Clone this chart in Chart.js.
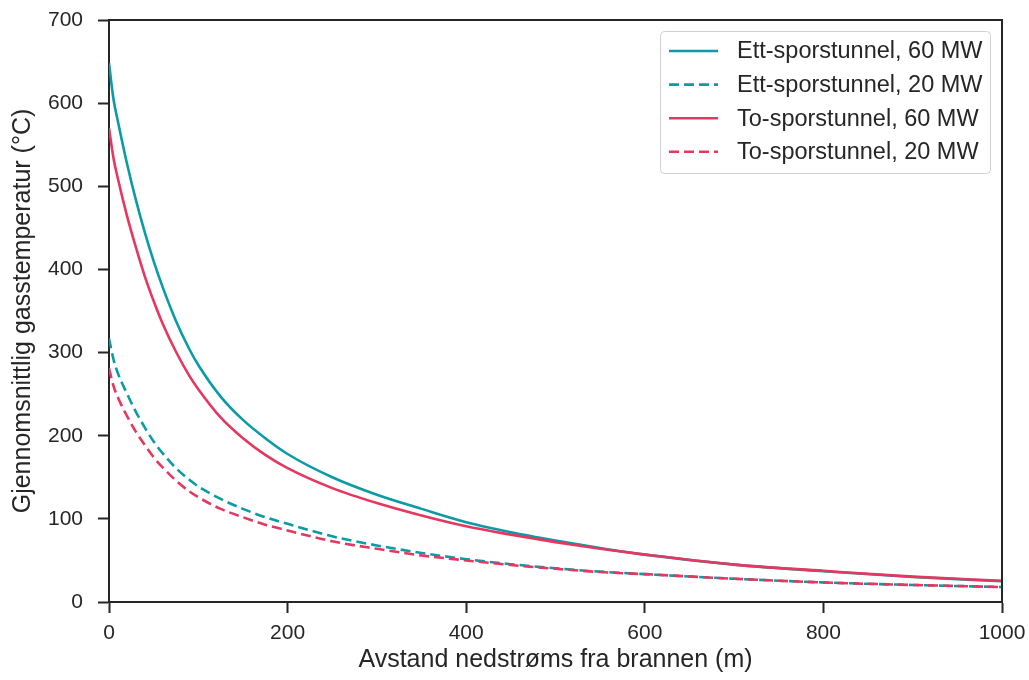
<!DOCTYPE html>
<html>
<head>
<meta charset="utf-8">
<script src="https://cdn.jsdelivr.net/npm/chart.js@4"></script>
<style>
  html, body { margin: 0; padding: 0; background: #fff; }
  canvas { display: block; }
</style>
</head>
<body>
<canvas id="myChart" width="1029" height="680"></canvas>
<script>
// avstand nedstrøms (m)
var distance = [0, 5, 10, 20, 30, 40, 50, 60, 75, 90, 100, 125, 150, 175, 200, 250, 300, 350, 400, 450, 500, 550, 600, 700, 800, 900, 1000];

// gasstemperatur (°C), lest av figuren
var ett60 = [648, 605, 578, 528, 484, 445, 410, 379, 338, 304, 285, 247, 219, 197, 178, 150, 129, 112, 96, 84, 74, 65, 57, 45, 37, 30, 25];
var ett20 = [317, 292, 275, 251, 229, 210, 193, 179, 161, 147, 139, 124, 112, 102, 94, 79, 68, 59, 51.5, 45.5, 40.5, 36.5, 33.5, 28, 23.5, 20.5, 18];
var to60  = [570, 534, 509, 465, 427, 392, 362, 335, 301, 272, 256, 222, 197, 177, 161, 137, 119, 104, 91, 81, 72, 64, 57, 45, 37.5, 30.5, 25.5];
var to20  = [281, 260, 246, 224, 205, 189, 174, 162, 146, 133, 126, 112, 102, 93, 86, 73, 64, 56, 50, 44.5, 40, 36, 33.5, 28, 23.5, 20.5, 18];

var labels = ['Ett-sporstunnel, 60 MW', 'Ett-sporstunnel, 20 MW', 'To-sporstunnel, 60 MW', 'To-sporstunnel, 20 MW'];
var xTicks = [0, 200, 400, 600, 800, 1000];
var yTicks = [0, 100, 200, 300, 400, 500, 600, 700];

var teal = '#0b9ba6';
var red = '#e5375f';
var ink = '#262626';
var fontFamily = 'Arial, "Liberation Sans", sans-serif';

function toPoints(arr) {
  return distance.map(function (d, i) { return { x: d, y: arr[i] }; });
}

function serie(label, arr, color, dashed, order) {
  return {
    label: label,
    data: toPoints(arr),
    borderColor: color,
    backgroundColor: color,
    borderWidth: 2.6,
    borderDash: dashed ? [10, 5] : [],
    pointRadius: 0,
    cubicInterpolationMode: 'monotone',
    fill: false,
    order: order
  };
}

// plottområdet styres av layout.padding alene
function noScalePadding(scale) {
  scale.paddingTop = 0;
  scale.paddingBottom = 0;
  scale.paddingLeft = 0;
  scale.paddingRight = 0;
}

// ramme rundt plottet + legende inne i plottet
var framePlugin = {
  id: 'frame',
  afterDraw: function (chart) {
    var a = chart.chartArea;
    var ctx = chart.ctx;
    ctx.save();
    ctx.strokeStyle = ink;
    ctx.lineWidth = 2;
    ctx.beginPath();
    ctx.moveTo(a.left, a.top);
    ctx.lineTo(a.right, a.top);
    ctx.lineTo(a.right, a.bottom);
    ctx.stroke();

    // legende
    var bx = 660.5, by = 31.5, bw = 330, bh = 142;
    ctx.fillStyle = 'rgba(255,255,255,0.85)';
    ctx.strokeStyle = '#d0d0d0';
    ctx.lineWidth = 1;
    ctx.beginPath();
    ctx.roundRect(bx, by, bw, bh, 4);
    ctx.fill();
    ctx.stroke();

    ctx.font = '23.5px ' + fontFamily;
    ctx.textBaseline = 'middle';
    ctx.textAlign = 'left';
    chart.data.datasets.forEach(function (ds, i) {
      var y = 51 + i * 33.6;
      ctx.strokeStyle = ds.borderColor;
      ctx.lineWidth = ds.borderWidth;
      ctx.setLineDash(ds.borderDash);
      ctx.beginPath();
      ctx.moveTo(669, y);
      ctx.lineTo(718, y);
      ctx.stroke();
      ctx.setLineDash([]);
      ctx.fillStyle = ink;
      ctx.fillText(ds.label, 737, y + 1);
    });
    ctx.restore();
  }
};

var ctx = document.getElementById('myChart').getContext('2d');
var chart = new Chart(ctx, {
  type: 'line',
  data: {
    datasets: [
      serie(labels[0], ett60, teal, false, 4),
      serie(labels[1], ett20, teal, true, 3),
      serie(labels[2], to60, red, false, 2),
      serie(labels[3], to20, red, true, 1)
    ]
  },
  options: {
    responsive: false,
    animation: false,
    devicePixelRatio: 1,
    layout: { padding: { top: 20, right: 27, left: 0, bottom: 0 } },
    plugins: { legend: { display: false }, tooltip: { enabled: false } },
    scales: {
      x: {
        type: 'linear',
        min: 0,
        max: 1000,
        afterBuildTicks: function (scale) { scale.ticks = xTicks.map(function (v) { return { value: v }; }); },
        afterFit: function (scale) { scale.height = 78; noScalePadding(scale); },
        border: { display: true, color: ink, width: 2 },
        grid: { drawOnChartArea: false, drawTicks: true, tickLength: 11, tickWidth: 2, tickColor: ink },
        ticks: { color: ink, padding: 8, font: { size: 21, family: fontFamily }, callback: function (v) { return String(v); } },
        title: { display: true, text: 'Avstand nedstrøms fra brannen (m)', color: ink, padding: { top: 0, bottom: 5 }, font: { size: 25, family: fontFamily } }
      },
      y: {
        type: 'linear',
        min: 0,
        max: 700,
        afterBuildTicks: function (scale) { scale.ticks = yTicks.map(function (v) { return { value: v }; }); },
        afterFit: function (scale) { scale.width = 109; noScalePadding(scale); },
        border: { display: true, color: ink, width: 2 },
        grid: { drawOnChartArea: false, drawTicks: true, tickLength: 11, tickWidth: 2, tickColor: ink },
        ticks: { color: ink, padding: 15, font: { size: 21, family: fontFamily }, callback: function (v) { return String(v); } },
        title: { display: true, text: 'Gjennomsnittlig gasstemperatur (°C)', color: ink, padding: { top: 8, bottom: 0 }, font: { size: 25, family: fontFamily } }
      }
    }
  },
  plugins: [framePlugin]
});
</script>
</body>
</html>
